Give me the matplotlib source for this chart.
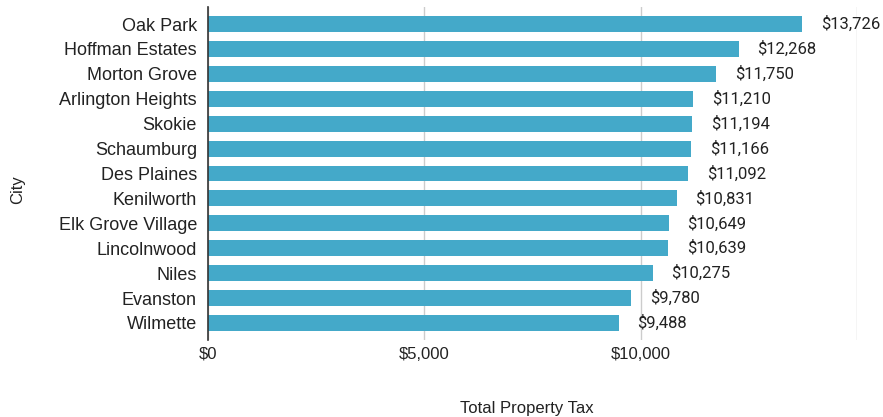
import matplotlib.pyplot as plt

# average total property tax by city
cities = ["Oak Park", "Hoffman Estates", "Morton Grove", "Arlington Heights", "Skokie",
          "Schaumburg", "Des Plaines", "Kenilworth", "Elk Grove Village", "Lincolnwood",
          "Niles", "Evanston", "Wilmette"]
tax = [13726, 12268, 11750, 11210, 11194, 11166, 11092, 10831, 10649, 10639, 10275, 9780, 9488]
xticks = [0, 5000, 10000, 15000]
xtick_labels = ["$0", "$5,000", "$10,000", ""]

bar_color = "#44a9c9"
text_color = "#222222"

plt.rcParams['font.family'] = ['Liberation Sans', 'DejaVu Sans']

fig = plt.figure(figsize=(8.83, 4.17), dpi=100)
ax = fig.add_axes([0.2356, 0.185, 0.735, 0.798])

pos = list(range(len(cities)))
ax.barh(pos, tax, height=0.64, color=bar_color, zorder=3)

# value labels to the right of each bar (offset given in points, ~19 px)
for p, v in zip(pos, tax):
    ax.annotate(f"${v:,}", xy=(v, p), xytext=(13.5, 0), textcoords="offset points",
                va="center", ha="left", fontsize=12, color=text_color,
                family=["Roboto", "DejaVu Sans"])

ax.set_xlim(0, 15000)
ax.set_ylim(len(cities) - 0.32, -0.68)
ax.set_yticks(pos)
ax.set_yticklabels(cities, fontsize=13, color=text_color)
ax.set_xticks(xticks)
ax.set_xticklabels(xtick_labels, fontsize=12, color=text_color)
ax.tick_params(axis="both", length=0)
ax.tick_params(axis="y", pad=8)
ax.tick_params(axis="x", pad=5)

ax.grid(axis="x", color="#cccccc", linewidth=1, zorder=0)
for s in ["top", "right", "bottom"]:
    ax.spines[s].set_visible(False)
ax.spines["left"].set_color("#333333")
ax.spines["left"].set_linewidth(1.2)
ax.spines["left"].set_zorder(4)

fig.text(527 / 883, 1 - 408 / 417, "Total Property Tax", ha="center", va="center",
         fontsize=12, color=text_color)
fig.text(18 / 883, 1 - 190 / 417, "City", rotation=90, ha="center", va="center",
         fontsize=12, color=text_color)

fig.savefig("out.png", dpi=100)
